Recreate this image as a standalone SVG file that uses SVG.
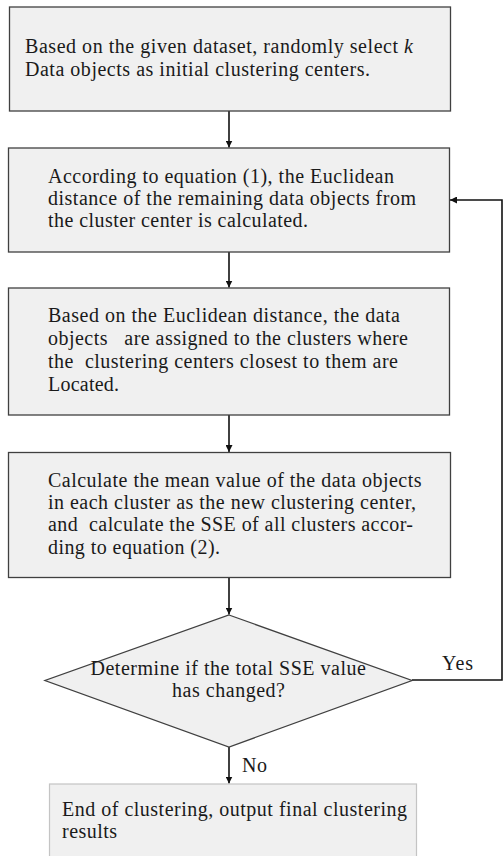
<svg xmlns="http://www.w3.org/2000/svg" width="504" height="856" viewBox="0 0 504 856">
<defs>
<style>
.box{fill:#f0f0f0;stroke:#404040;stroke-width:1.3}
.endbox{fill:#f0f0f0;stroke:#c4c4c4;stroke-width:1.2}
.t{font-family:"Liberation Serif","Times New Roman",serif;font-size:20px;fill:#1a1a1a}
.c{fill:none;stroke:#111;stroke-width:1.6}
</style>
<marker id="ah" viewBox="0 0 10 10" refX="10" refY="5" markerWidth="7" markerHeight="7" markerUnits="userSpaceOnUse" orient="auto">
<path d="M0,0 L10,5 L0,10 z" fill="#111"/>
</marker>
<marker id="ahw" viewBox="0 0 10 10" refX="10" refY="5" markerWidth="12" markerHeight="7" markerUnits="userSpaceOnUse" orient="auto">
<path d="M0,0 L10,5 L0,10 z" fill="#111"/>
</marker>
</defs>
<rect width="504" height="856" fill="#fff"/>
<g id="connectors">
<line class="c" x1="229" y1="111" x2="229" y2="147.5" marker-end="url(#ah)"/>
<line class="c" x1="229" y1="252" x2="229" y2="287.5" marker-end="url(#ah)"/>
<line class="c" x1="229" y1="415" x2="229" y2="452" marker-end="url(#ah)"/>
<line class="c" x1="229" y1="578" x2="229" y2="614.5" marker-end="url(#ah)"/>
<line class="c" x1="229" y1="747" x2="229" y2="783.5" marker-end="url(#ah)"/>
<polyline class="c" points="412,680 502,680 502,200 450,200" marker-end="url(#ahw)"/>
<text class="t" x="442" y="670" textLength="31" lengthAdjust="spacing">Yes</text>
<text class="t" x="242" y="772" textLength="25" lengthAdjust="spacing">No</text>
</g>
<g id="n1">
<rect class="box" x="9.5" y="7" width="441" height="104"/>
<text class="t" x="25" y="53" textLength="388" lengthAdjust="spacing">Based on the given dataset, randomly select <tspan font-style="italic">k</tspan></text>
<text class="t" x="25" y="76" textLength="345" lengthAdjust="spacing">Data objects as initial clustering centers.</text>
</g>
<g id="n2">
<rect class="box" x="8.5" y="148" width="441" height="104"/>
<text class="t" x="48" y="183" textLength="346" lengthAdjust="spacing">According to equation (1), the Euclidean</text>
<text class="t" x="48" y="205" textLength="368" lengthAdjust="spacing">distance of the remaining data objects from</text>
<text class="t" x="48" y="227" textLength="260" lengthAdjust="spacing">the cluster center is calculated.</text>
</g>
<g id="n3">
<rect class="box" x="8.5" y="288" width="441" height="127"/>
<text class="t" x="48" y="322" textLength="352" lengthAdjust="spacing">Based on the Euclidean distance, the data</text>
<text class="t" x="48" y="345" textLength="360" lengthAdjust="spacing" xml:space="preserve">objects   are assigned to the clusters where</text>
<text class="t" x="48" y="368" textLength="350" lengthAdjust="spacing" xml:space="preserve">the  clustering centers closest to them are</text>
<text class="t" x="48" y="391" textLength="71" lengthAdjust="spacing">Located.</text>
</g>
<g id="n4">
<rect class="box" x="8.5" y="452.5" width="442" height="125"/>
<text class="t" x="48" y="487" textLength="373.5" lengthAdjust="spacing">Calculate the mean value of the data objects</text>
<text class="t" x="48" y="509" textLength="368" lengthAdjust="spacing">in each cluster as the new clustering center,</text>
<text class="t" x="48" y="531" textLength="365" lengthAdjust="spacing" xml:space="preserve">and  calculate the SSE of all clusters accor-</text>
<text class="t" x="48" y="554" textLength="172" lengthAdjust="spacing">ding to equation (2).</text>
</g>
<g id="n5">
<polygon class="box" points="229,615 412,680.5 229,747 45,680.5"/>
<text class="t" x="90.5" y="675" textLength="275.5" lengthAdjust="spacing">Determine if the total SSE value</text>
<text class="t" x="172" y="697" textLength="113" lengthAdjust="spacing">has changed?</text>
</g>
<g id="n6">
<rect class="endbox" x="49.5" y="784" width="367" height="90"/>
<text class="t" x="62" y="816" textLength="345" lengthAdjust="spacing">End of clustering, output final clustering</text>
<text class="t" x="62" y="838" textLength="55" lengthAdjust="spacing">results</text>
</g>
</svg>
